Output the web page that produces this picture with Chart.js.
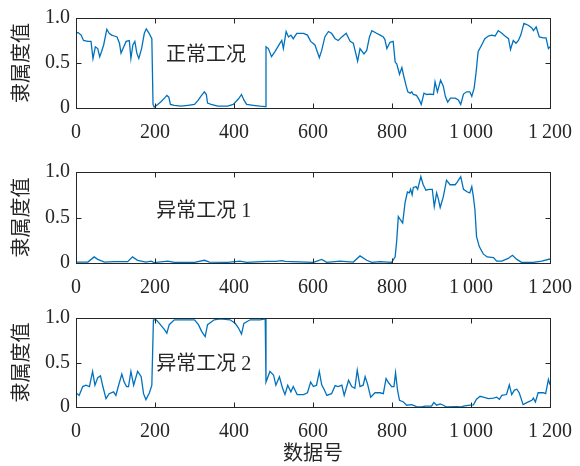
<!DOCTYPE html>
<html>
<head>
<meta charset="utf-8">
<script src="https://cdn.jsdelivr.net/npm/chart.js@4.4.1/dist/chart.umd.min.js"></script>
<style>
  html, body { margin: 0; padding: 0; background: #fff; }
  #wrap { position: relative; width: 580px; height: 466px; }
  canvas { position: absolute; left: 0; }
</style>
</head>
<body>
<div id="wrap">
  <canvas id="c1" width="580" height="150" style="top:0px"></canvas>
  <canvas id="c2" width="580" height="150" style="top:150px"></canvas>
  <canvas id="c3" width="580" height="166" style="top:300px"></canvas>
</div>
<script>
// data: [sample no., membership]
const normalData = [[0,0.83],[5,0.84],[13,0.81],[19,0.75],[30,0.74],[38,0.74],[43,0.55],[49,0.68],[55,0.66],[60,0.57],[65,0.63],[70,0.70],[78,0.875],[84,0.83],[90,0.81],[97,0.80],[104,0.79],[110,0.72],[114,0.61],[121,0.68],[127,0.74],[135,0.75],[139,0.55],[144,0.70],[149,0.74],[154,0.61],[159,0.55],[166,0.66],[173,0.83],[178,0.88],[185,0.83],[192,0.77],[195,0.04],[198,0.01],[207,0.04],[215,0.07],[224,0.11],[230,0.14],[235,0.12],[239,0.04],[249,0.03],[266,0.02],[283,0.03],[300,0.04],[310,0.09],[316,0.13],[325,0.18],[330,0.15],[333,0.055],[342,0.04],[359,0.02],[384,0.02],[398,0.04],[411,0.10],[419,0.15],[425,0.09],[432,0.04],[449,0.03],[466,0.02],[479,0.015],[481,0.68],[487,0.66],[495,0.57],[504,0.63],[515,0.71],[521,0.75],[525,0.66],[532,0.85],[538,0.79],[544,0.81],[550,0.77],[559,0.83],[576,0.83],[586,0.81],[594,0.74],[605,0.70],[616,0.56],[622,0.64],[630,0.79],[639,0.85],[647,0.83],[656,0.77],[664,0.75],[673,0.79],[684,0.83],[694,0.74],[702,0.72],[713,0.52],[719,0.66],[729,0.60],[736,0.64],[743,0.79],[749,0.86],[761,0.83],[770,0.81],[778,0.79],[782,0.76],[787,0.66],[795,0.73],[803,0.74],[808,0.51],[812,0.49],[819,0.375],[825,0.45],[830,0.35],[835,0.26],[840,0.18],[846,0.165],[850,0.18],[854,0.15],[862,0.14],[869,0.09],[874,0.04],[881,0.165],[888,0.15],[896,0.155],[905,0.15],[909,0.29],[915,0.18],[923,0.31],[930,0.24],[935,0.13],[941,0.066],[948,0.11],[960,0.11],[968,0.09],[974,0.04],[981,0.155],[989,0.18],[997,0.18],[1002,0.13],[1008,0.22],[1013,0.40],[1018,0.625],[1027,0.70],[1035,0.77],[1044,0.80],[1052,0.81],[1061,0.80],[1069,0.86],[1078,0.83],[1086,0.80],[1095,0.77],[1100,0.65],[1107,0.75],[1114,0.72],[1120,0.75],[1126,0.81],[1134,0.94],[1145,0.92],[1154,0.89],[1158,0.86],[1165,0.90],[1173,0.79],[1183,0.78],[1190,0.78],[1196,0.66],[1200,0.68]];

const fault1Data = [[0,0.01],[30,0.01],[46,0.067],[55,0.04],[72,0.01],[97,0.015],[131,0.015],[143,0.067],[156,0.03],[177,0.01],[190,0.02],[198,0.005],[232,0.02],[249,0.007],[300,0.007],[325,0.03],[338,0.01],[384,0.007],[415,0.02],[432,0.007],[483,0.018],[505,0.018],[521,0.025],[530,0.018],[601,0.007],[622,0.04],[635,0.007],[668,0.02],[702,0.01],[719,0.078],[736,0.03],[749,0.007],[770,0.015],[799,0.007],[808,0.067],[812,0.25],[816,0.51],[822,0.47],[827,0.44],[833,0.66],[839,0.78],[844,0.77],[847,0.81],[851,0.75],[854,0.83],[861,0.84],[865,0.81],[873,0.95],[879,0.86],[886,0.80],[894,0.81],[902,0.81],[907,0.62],[913,0.77],[917,0.71],[922,0.61],[930,0.73],[938,0.91],[947,0.86],[960,0.86],[965,0.89],[974,0.95],[981,0.81],[991,0.78],[997,0.77],[1002,0.84],[1006,0.73],[1010,0.585],[1014,0.29],[1021,0.18],[1031,0.10],[1041,0.067],[1057,0.06],[1065,0.02],[1078,0.02],[1094,0.05],[1105,0.085],[1116,0.04],[1128,0.007],[1158,0.007],[1179,0.02],[1200,0.044]];

const fault2Data = [[0,0.16],[8,0.13],[17,0.23],[25,0.245],[34,0.23],[42,0.40],[48,0.245],[55,0.33],[62,0.35],[68,0.23],[76,0.094],[84,0.15],[95,0.17],[101,0.13],[107,0.23],[116,0.37],[122,0.28],[128,0.23],[133,0.23],[139,0.40],[146,0.245],[156,0.40],[165,0.34],[171,0.15],[177,0.083],[186,0.16],[192,0.245],[196,0.98],[203,0.98],[211,0.94],[224,0.87],[230,0.83],[236,0.925],[249,0.98],[266,0.98],[283,0.98],[300,0.98],[310,0.925],[318,0.85],[327,0.79],[333,0.925],[350,0.98],[365,0.99],[390,0.98],[403,0.94],[411,0.89],[419,0.82],[425,0.94],[441,0.98],[466,0.98],[479,0.99],[481,0.28],[491,0.40],[500,0.36],[506,0.245],[515,0.34],[523,0.21],[529,0.14],[536,0.245],[544,0.17],[550,0.23],[560,0.14],[576,0.14],[586,0.16],[594,0.28],[601,0.23],[609,0.245],[616,0.40],[622,0.25],[628,0.20],[635,0.13],[647,0.15],[656,0.24],[664,0.23],[673,0.245],[679,0.13],[690,0.30],[698,0.23],[706,0.21],[712,0.415],[719,0.23],[727,0.245],[732,0.34],[738,0.26],[746,0.11],[757,0.16],[770,0.16],[778,0.15],[785,0.32],[791,0.275],[799,0.23],[805,0.23],[809,0.385],[814,0.19],[819,0.075],[829,0.057],[837,0.02],[850,0.026],[862,0.005],[875,0.0],[884,0.01],[900,0.01],[906,0.05],[913,0.02],[922,0.034],[930,0.02],[938,0.0],[964,0.005],[974,0.0],[981,0.01],[997,0.02],[1006,0.025],[1014,0.087],[1023,0.12],[1031,0.11],[1044,0.094],[1057,0.10],[1065,0.11],[1072,0.087],[1078,0.13],[1090,0.14],[1097,0.25],[1103,0.14],[1110,0.19],[1116,0.20],[1122,0.16],[1132,0.026],[1145,0.057],[1154,0.075],[1158,0.10],[1163,0.057],[1170,0.16],[1183,0.16],[1189,0.15],[1196,0.31],[1200,0.25]];

const xTicks = [0, 200, 400, 600, 800, 1000, 1200];
const xTickLabels = ['0', '200', '400', '600', '800', '1\u2009000', '1\u2009200'];
const yTicks = [0, 0.5, 1];
const yTickLabels = ['0', '0.5', '1.0'];
const panelNames = ['正常工况', '异常工况 1', '异常工况 2'];
const yTitle = '隶属度值';
const xTitle = '数据号';

// where each panel name sits, in data units [sample, membership]
const namePos = [[228, 0.58], [203, 0.56], [203, 0.47]];

const lineColor = '#0072BD';
const textColor = '#262626';
const serif = "'Liberation Serif', 'DejaVu Serif', serif";
const cjk = "'Noto Sans CJK SC', sans-serif";

// box round the plot + inward ticks on all four sides
const boxPlugin = {
  id: 'box',
  afterDraw(chart) {
    const ctx = chart.ctx;
    const a = chart.chartArea;
    const xs = chart.scales.x, ys = chart.scales.y;
    const L = Math.round(a.left) + 0.5, R = Math.round(a.right) + 0.5;
    const T = Math.round(a.top) + 0.5, B = Math.round(a.bottom) + 0.5;
    const tk = 5;
    ctx.save();
    ctx.strokeStyle = textColor;
    ctx.lineWidth = 1;
    ctx.strokeRect(L, T, R - L, B - T);
    ctx.beginPath();
    xTicks.forEach(v => {
      const px = Math.round(xs.getPixelForValue(v)) + 0.5;
      ctx.moveTo(px, B); ctx.lineTo(px, B - tk);
      ctx.moveTo(px, T); ctx.lineTo(px, T + tk);
    });
    yTicks.forEach(v => {
      const py = Math.round(ys.getPixelForValue(v)) + 0.5;
      ctx.moveTo(L, py); ctx.lineTo(L + tk, py);
      ctx.moveTo(R, py); ctx.lineTo(R - tk, py);
    });
    ctx.stroke();

    // panel name
    const i = chart.options.panelIndex;
    ctx.fillStyle = textColor;
    ctx.font = "20px 'Liberation Serif', 'Noto Sans CJK SC'";
    ctx.textAlign = 'left';
    ctx.textBaseline = 'middle';
    ctx.fillText(panelNames[i], xs.getPixelForValue(namePos[i][0]), ys.getPixelForValue(namePos[i][1]));
    ctx.restore();
  }
};

function makePanel(id, i, data, canvasTop, canvasH, plotTop, plotBottom, showXTitle) {
  new Chart(document.getElementById(id), {
    type: 'line',
    data: {
      datasets: [{
        data: data.map(p => ({ x: p[0], y: p[1] })),
        borderColor: lineColor,
        borderWidth: 1.3,
        pointRadius: 0,
        tension: 0,
        fill: false
      }]
    },
    options: {
      panelIndex: i,
      responsive: false,
      animation: false,
      layout: { padding: { top: plotTop - canvasTop, right: 30, left: 0, bottom: 0 } },
      plugins: { legend: { display: false }, tooltip: { enabled: false } },
      scales: {
        x: {
          type: 'linear', min: 0, max: 1200,
          grid: { display: false, drawTicks: false },
          border: { display: false },
          afterBuildTicks: s => { s.ticks = xTicks.map(v => ({ value: v })); },
          afterFit: s => {
            s.height = canvasTop + canvasH - plotBottom;
            s.paddingLeft = 0; s.paddingRight = 0;
          },
          ticks: {
            font: { family: serif, size: 20 }, color: textColor,
            padding: 13, maxRotation: 0, autoSkip: false,
            callback: (v, idx) => xTickLabels[idx]
          },
          title: {
            display: showXTitle, text: xTitle, color: textColor,
            font: { family: cjk, size: 20, lineHeight: 1 },
            padding: { top: 0, bottom: 4 }
          }
        },
        y: {
          min: 0, max: 1,
          grid: { display: false, drawTicks: false },
          border: { display: false },
          afterBuildTicks: s => { s.ticks = yTicks.map(v => ({ value: v })); },
          afterFit: s => {
            s.width = 76;
            s.paddingTop = 0; s.paddingBottom = 0;
          },
          ticks: {
            font: { family: serif, size: 20 }, color: textColor,
            padding: 6,
            callback: (v, idx) => yTickLabels[idx]
          },
          title: {
            display: true, text: yTitle, color: textColor,
            font: { family: cjk, size: 20, lineHeight: 1 },
            padding: { top: 10, bottom: 0 }
          }
        }
      }
    },
    plugins: [boxPlugin]
  });
}

makePanel('c1', 0, normalData, 0, 150, 18, 108, false);
makePanel('c2', 1, fault1Data, 150, 150, 172, 263, false);
makePanel('c3', 2, fault2Data, 300, 166, 318, 407, true);
</script>
</body>
</html>
